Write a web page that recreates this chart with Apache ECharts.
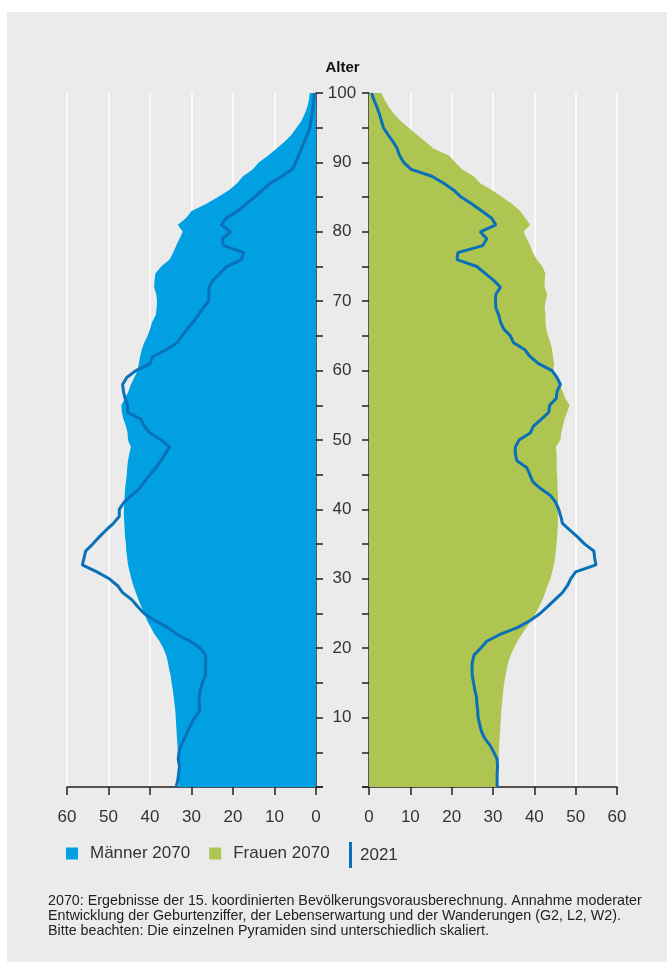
<!DOCTYPE html>
<html><head><meta charset="utf-8">
<script src="https://cdn.jsdelivr.net/npm/echarts@6/dist/echarts.min.js"></script>
<style>
html,body{margin:0;padding:0;background:#fff;}
#bg{position:absolute;left:7px;top:12px;width:660px;height:950px;background:#ebebeb;}
#c{position:absolute;left:0;top:0;width:667px;height:962px;}
</style>
</head><body><div id="bg"></div><div id="c"></div>
<script>
const ages = ['0','1','2','3','4','5','6','7','8','9','10','11','12','13','14','15','16','17','18','19','20','21','22','23','24','25','26','27','28','29','30','31','32','33','34','35','36','37','38','39','40','41','42','43','44','45','46','47','48','49','50','51','52','53','54','55','56','57','58','59','60','61','62','63','64','65','66','67','68','69','70','71','72','73','74','75','76','77','78','79','80','81','82','83','84','85','86','87','88','89','90','91','92','93','94','95','96','97','98','99','100'];
const xTicks = [0,10,20,30,40,50,60];

const men2070 = [33.1,33.1,33.2,33.2,33.3,33.3,33.4,33.5,33.6,33.7,33.8,33.9,34.1,34.3,34.5,34.8,35.0,35.4,35.7,36.1,36.8,37.7,38.9,39.8,40.7,41.4,42.1,42.8,43.4,44.0,44.5,44.9,45.3,45.5,45.7,45.8,46.0,46.1,46.2,46.3,46.3,46.2,46.1,46.0,45.8,45.6,45.5,45.3,45.0,44.6,45.3,45.4,45.8,46.4,46.8,46.9,46.0,45.2,44.6,43.8,43.0,42.7,42.4,42.0,41.4,40.6,40.0,39.5,38.6,38.4,38.3,38.5,39.0,38.9,38.7,37.3,35.3,34.4,33.7,32.9,32.1,33.3,31.3,30.0,26.5,23.6,21.0,19.0,17.6,15.2,13.8,11.5,9.5,7.5,5.9,4.7,3.5,2.7,2.1,1.7,1.5];
const men2021 = [33.7,33.3,33.1,32.9,33.2,33.0,32.5,31.7,30.9,30.2,29.2,28.0,28.2,28.1,27.9,27.4,26.7,26.6,26.6,26.6,27.9,30.3,33.5,35.8,38.9,41.4,43.0,44.4,46.6,47.8,49.8,52.8,56.3,55.9,55.5,53.8,52.3,50.6,48.8,47.4,47.4,46.3,44.5,42.6,41.3,40.0,38.6,37.4,36.3,35.3,37.3,40.0,41.4,42.2,45.4,45.4,46.0,46.4,46.6,45.6,43.4,40.0,39.4,36.1,33.5,32.3,31.0,29.6,28.4,27.2,25.9,25.8,25.8,24.8,23.2,21.5,18.0,17.4,22.3,22.6,20.6,22.8,21.6,18.9,16.9,14.8,12.9,11.0,8.2,5.7,4.9,4.2,3.5,2.8,2.1,1.5,1.2,0.9,0.7,0.5,0.4];
const women2070 = [31.2,31.2,31.3,31.3,31.4,31.4,31.5,31.6,31.7,31.8,31.9,32.0,32.2,32.3,32.5,32.7,33.0,33.3,33.7,34.3,35.0,35.9,37.0,38.1,39.3,40.3,41.2,42.0,42.6,43.2,43.9,44.3,44.7,45.0,45.2,45.4,45.5,45.6,45.7,45.7,45.7,45.7,45.7,45.6,45.6,45.5,45.4,45.4,45.4,45.2,46.3,46.5,46.9,47.3,47.9,48.5,47.5,46.9,46.0,45.3,44.5,44.8,44.5,44.3,43.9,43.3,42.9,42.7,42.7,42.5,42.7,43.1,42.5,42.5,42.7,41.9,40.6,39.6,39.0,38.2,37.4,39.0,37.8,36.6,34.6,32.2,29.8,26.9,25.3,22.5,20.9,19.3,15.6,13.6,11.6,9.6,7.6,6.0,4.8,3.8,3.0];
const women2021 = [31.0,31.0,31.0,31.1,31.0,30.2,29.3,28.0,27.2,26.8,26.4,26.3,26.1,26.0,25.6,25.3,25.0,24.9,25.0,25.4,27.0,28.5,31.7,36.0,39.0,41.4,43.2,45.0,46.8,48.0,48.8,50.0,54.9,54.6,54.4,52.2,50.5,48.6,46.8,46.4,45.9,45.2,43.9,41.5,39.6,38.9,38.2,35.8,35.4,35.4,36.3,39.0,39.8,41.7,43.5,43.7,45.3,45.5,46.3,45.5,44.3,41.0,39.0,37.7,35.0,34.2,32.6,31.8,31.4,30.7,30.6,30.7,31.8,30.2,28.1,26.1,21.3,21.5,27.5,28.5,26.9,30.7,29.6,27.3,24.9,22.3,20.5,18.1,15.2,10.2,8.4,7.4,6.8,5.8,4.6,3.5,3.0,2.5,1.9,1.2,0.6];

const C_MEN = '#00a0e2', C_WOMEN = '#aec552', C_LINE = '#0a70b8';
const FONT = '"Liberation Sans", Arial, sans-serif';
const AXC = '#222';

const chart = echarts.init(document.getElementById('c'), null, {renderer:'canvas'});

function xAxisCfg(grid, inverse){
  return {
    gridIndex: grid, type:'value', min:0, max:60, interval:10, inverse: inverse,
    axisLine:{show:true, onZero:false, lineStyle:{color:AXC, width:1.5}},
    axisTick:{show:true, length:8, lineStyle:{color:AXC, width:1.5}},
    axisLabel:{fontSize:17, color:'#333', margin:22, fontFamily:FONT,
      formatter: v => xTicks.indexOf(v) >= 0 ? String(v) : ''},
    splitLine:{show:true, lineStyle:{color:'#ffffff', width:1.5}}
  };
}
function yAxisCfg(grid, pos, labels){
  return {
    gridIndex: grid, type:'category', data: ages, position: pos, boundaryGap:false,
    axisLine:{show:true, lineStyle:{color:AXC, width:1.5}},
    axisTick:{show:true, length:7, interval:(i)=> i % 5 === 0, lineStyle:{color:AXC, width:1.5}},
    axisLabel:{show:labels, interval:(i)=> i % 10 === 0 && i > 0, align:'center', margin:26,
      fontSize:17, color:'#333', fontFamily:FONT},
    splitLine:{show:false}
  };
}

const option = {
  animation:false,
  backgroundColor:'transparent',
  textStyle:{fontFamily:FONT},
  grid:[
    {left:67, top:93, width:249, height:694, containLabel:false},
    {left:369, top:93, width:248, height:694, containLabel:false}
  ],
  xAxis:[xAxisCfg(0,true), xAxisCfg(1,false)],
  yAxis:[yAxisCfg(0,'right',true), yAxisCfg(1,'left',false)],
  legend:[
    {data:['Männer 2070','Frauen 2070'], left:66, top:845, padding:0, itemWidth:12, itemHeight:12, itemGap:19,
      icon:'rect', textStyle:{fontSize:17, color:'#333', fontFamily:FONT, padding:[0,0,0,7]}},
    {data:['2021'], left:349, top:842, padding:0, itemWidth:3, itemHeight:26, icon:'rect',
      textStyle:{fontSize:17, color:'#333', fontFamily:FONT, padding:[0,0,0,3]}}
  ],
  title:{
    text:'2070: Ergebnisse der 15. koordinierten Bevölkerungsvorausberechnung. Annahme moderater\nEntwicklung der Geburtenziffer, der Lebenserwartung und der Wanderungen (G2, L2, W2).\nBitte beachten: Die einzelnen Pyramiden sind unterschiedlich skaliert.',
    left:43, top:889,
    textStyle:{fontSize:14.3, lineHeight:15, color:'#222', fontWeight:'normal', fontFamily:FONT}
  },
  series:[
    {name:'Männer 2070', type:'line', xAxisIndex:0, yAxisIndex:0, data:men2070, symbol:'none',
      lineStyle:{width:0}, itemStyle:{color:C_MEN}, areaStyle:{color:C_MEN, opacity:1}, z:1},
    {name:'Frauen 2070', type:'line', xAxisIndex:1, yAxisIndex:1, data:women2070, symbol:'none',
      lineStyle:{width:0}, itemStyle:{color:C_WOMEN}, areaStyle:{color:C_WOMEN, opacity:1}, z:1},
    {name:'2021', type:'line', xAxisIndex:0, yAxisIndex:0, data:men2021, symbol:'none',
      lineStyle:{color:C_LINE, width:3}, itemStyle:{color:C_LINE}, z:3},
    {name:'2021', type:'line', xAxisIndex:1, yAxisIndex:1, data:women2021, symbol:'none',
      lineStyle:{color:C_LINE, width:3}, itemStyle:{color:C_LINE}, z:3}
  ]
};
chart.setOption(option);

// decorations: 'Alter' label and short axis-line extensions toward the centre
const pL0 = chart.convertToPixel({xAxisIndex:0, yAxisIndex:0}, [0, '0']);
const pR0 = chart.convertToPixel({xAxisIndex:1, yAxisIndex:1}, [0, '0']);
const pTop = chart.convertToPixel({xAxisIndex:0, yAxisIndex:0}, [0, '100']);
const mid = (pL0[0] + pR0[0]) / 2;
chart.setOption({
  graphic:[
    {type:'text', x:mid, y:pTop[1]-25, style:{text:'Alter', fill:'#111', font:'bold 15px '+FONT, align:'center', verticalAlign:'middle'}},
    {type:'line', shape:{x1:pL0[0], y1:pL0[1], x2:pL0[0]+7, y2:pL0[1]}, style:{stroke:AXC, lineWidth:1.5}},
    {type:'line', shape:{x1:pR0[0]-7, y1:pR0[1], x2:pR0[0], y2:pR0[1]}, style:{stroke:AXC, lineWidth:1.5}}
  ]
});
</script>
</body></html>
